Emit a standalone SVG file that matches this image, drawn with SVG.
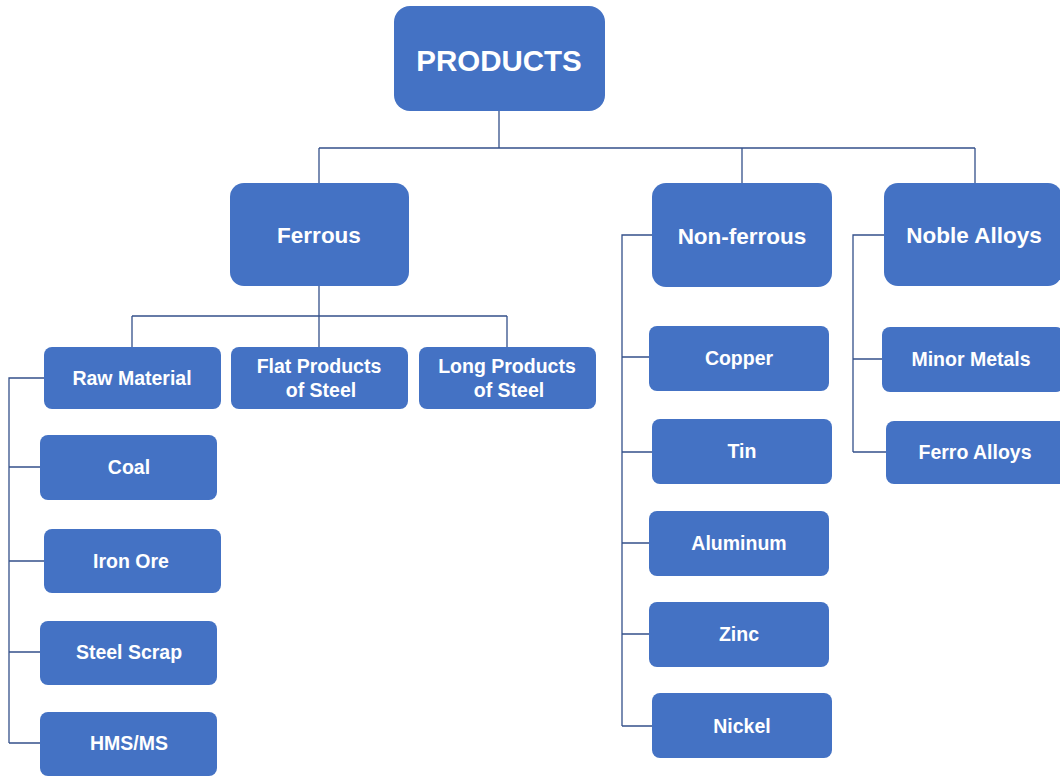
<svg xmlns="http://www.w3.org/2000/svg" width="1060" height="776" viewBox="0 0 1060 776">
<style>
.box{fill:#4472C4;}
.t{fill:#ffffff;font-family:"Liberation Sans",Arial,sans-serif;font-weight:bold;text-anchor:middle;dominant-baseline:central;}
.s{font-size:19.5px;}
.m{font-size:22.5px;}
.l{font-size:29.5px;}
.c{fill:none;stroke:#34508a;stroke-width:1.3;}
</style>
<rect width="1060" height="776" fill="#ffffff"/>
<g id="connectors">
<path class="c" d="M499 111V148M319 148H975M319 148V183M742 148V183M975 148V183"/>
<path class="c" d="M319 286V316M132 316H507M132 316V347M319 316V347M507 316V347"/>
<path class="c" d="M44 378H9V743M9 467H40M9 561H44M9 652H40M9 743H40"/>
<path class="c" d="M652 235H622V726M622 357H649M622 452H652M622 543H649M622 634H649M622 726H652"/>
<path class="c" d="M884 235H853V452M853 359H882M853 452H886"/>
</g>
<g id="products"><rect class="box" x="394" y="6" width="211" height="105" rx="16"/><text class="t l" x="499" y="60">PRODUCTS</text></g>
<g id="ferrous"><rect class="box" x="230" y="183" width="179" height="103" rx="14"/><text class="t m" x="319" y="235">Ferrous</text></g>
<g id="nonferrous"><rect class="box" x="652" y="183" width="180" height="104" rx="14"/><text class="t m" x="742" y="236">Non-ferrous</text></g>
<g id="noble"><rect class="box" x="884" y="183" width="178" height="103" rx="14"/><text class="t m" x="974" y="235">Noble Alloys</text></g>
<g id="raw"><rect class="box" x="44" y="347" width="177" height="62" rx="8"/><text class="t s" x="132" y="378">Raw Material</text></g>
<g id="flat"><rect class="box" x="231" y="347" width="177" height="62" rx="8"/><text class="t s" x="319" y="366">Flat Products</text><text class="t s" x="321" y="390">of Steel</text></g>
<g id="long"><rect class="box" x="419" y="347" width="177" height="62" rx="8"/><text class="t s" x="507" y="366">Long Products</text><text class="t s" x="509" y="390">of Steel</text></g>
<g id="coal"><rect class="box" x="40" y="435" width="177" height="65" rx="8"/><text class="t s" x="129" y="467">Coal</text></g>
<g id="ironore"><rect class="box" x="44" y="529" width="177" height="64" rx="8"/><text class="t s" x="131" y="561">Iron Ore</text></g>
<g id="steelscrap"><rect class="box" x="40" y="621" width="177" height="64" rx="8"/><text class="t s" x="129" y="652">Steel Scrap</text></g>
<g id="hms"><rect class="box" x="40" y="712" width="177" height="64" rx="8"/><text class="t s" x="129" y="743">HMS/MS</text></g>
<g id="copper"><rect class="box" x="649" y="326" width="180" height="65" rx="8"/><text class="t s" x="739" y="358">Copper</text></g>
<g id="tin"><rect class="box" x="652" y="419" width="180" height="65" rx="8"/><text class="t s" x="742" y="451">Tin</text></g>
<g id="aluminum"><rect class="box" x="649" y="511" width="180" height="65" rx="8"/><text class="t s" x="739" y="543">Aluminum</text></g>
<g id="zinc"><rect class="box" x="649" y="602" width="180" height="65" rx="8"/><text class="t s" x="739" y="634">Zinc</text></g>
<g id="nickel"><rect class="box" x="652" y="693" width="180" height="65" rx="8"/><text class="t s" x="742" y="726">Nickel</text></g>
<g id="minor"><rect class="box" x="882" y="327" width="182" height="65" rx="8"/><text class="t s" x="971" y="359">Minor Metals</text></g>
<g id="ferro"><rect class="box" x="886" y="421" width="182" height="63" rx="8"/><text class="t s" x="975" y="452">Ferro Alloys</text></g>
</svg>
